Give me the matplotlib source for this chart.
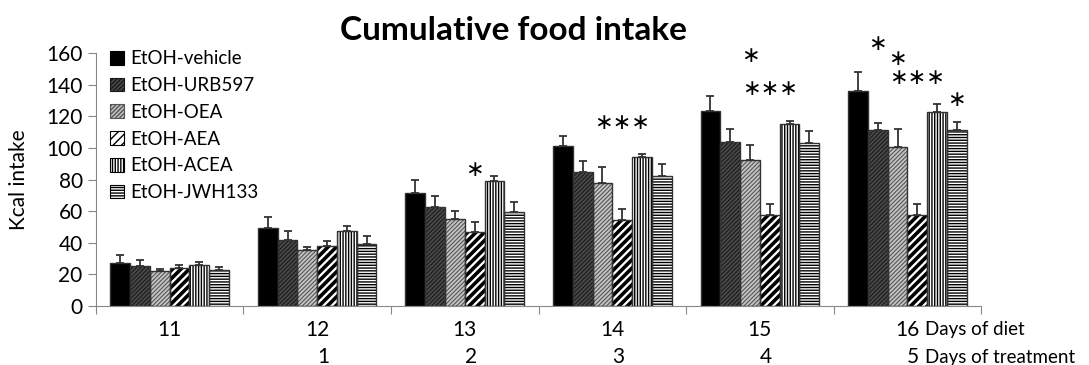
import numpy as np
import matplotlib.pyplot as plt
from matplotlib.patches import Patch
from matplotlib.transforms import blended_transform_factory

plt.rcParams['font.family'] = ['Lato', 'DejaVu Sans']

# data
days_diet = ['11', '12', '13', '14', '15', '16']
days_treat = ['', '1', '2', '3', '4', '5']
groups = ['EtOH-vehicle', 'EtOH-URB597', 'EtOH-OEA', 'EtOH-AEA', 'EtOH-ACEA', 'EtOH-JWH133']

vehicle = [27.4, 49.5, 71.7, 101.0, 123.6, 136.0]
urb597 = [25.0, 42.0, 62.9, 84.6, 104.0, 111.4]
oea = [22.0, 35.4, 54.8, 78.0, 92.4, 100.8]
aea = [24.0, 38.0, 46.8, 54.2, 57.6, 57.6]
acea = [26.0, 47.6, 79.0, 94.0, 115.0, 122.8]
jwh133 = [22.5, 39.0, 59.7, 82.0, 103.0, 111.0]

vehicle_err = [4.6, 7.0, 8.0, 6.8, 8.9, 11.7]
urb597_err = [4.0, 5.6, 6.5, 6.9, 7.8, 4.2]
oea_err = [1.5, 2.1, 5.1, 10.0, 9.3, 11.2]
aea_err = [2.0, 3.0, 6.6, 7.2, 7.0, 7.0]
acea_err = [2.0, 3.0, 3.3, 2.0, 2.3, 4.8]
jwh133_err = [2.0, 5.0, 6.3, 7.7, 7.8, 5.5]

# significance marks: (day index, group index, height, text)
stars = [(2, 3, 86, '∗'), (3, 3, 116, '∗∗∗'), (4, 2, 158, '∗'), (4, 3, 137, '∗∗∗'),
         (5, 1, 166, '∗'), (5, 2, 156, '∗'), (5, 3, 144, '∗∗∗'), (5, 5, 130, '∗')]

values = [vehicle, urb597, oea, aea, acea, jwh133]
errors = [vehicle_err, urb597_err, oea_err, aea_err, acea_err, jwh133_err]

# look of each group: face, hatch, hatch colour, hatch width
styles = [('black', None, 'black', 1.0),
          ('#4a4a4a', '////////', '#1a1a1a', 0.8),
          ('#c4c4c4', '////////', '#555555', 0.8),
          ('white', '////', 'black', 2.6),
          ('white', '||||||', 'black', 1.0),
          ('white', '------', 'black', 1.0)]

fig = plt.figure(figsize=(10.89, 3.65), dpi=100)
ax = fig.add_axes([0.088, 0.1616, 0.813, 0.6932])

x = np.arange(len(days_diet))
w = 0.134
handles = []
for i, (vals, errs) in enumerate(zip(values, errors)):
    face, hatch, hcol, hlw = styles[i]
    pos = x + (i - 2.5) * w
    with plt.rc_context({'hatch.linewidth': hlw}):
        bars = ax.bar(pos, vals, w, color=face, hatch=hatch, edgecolor=hcol,
                      linewidth=0, zorder=2)
        handles.append(Patch(facecolor=face, hatch=hatch, edgecolor=hcol,
                             linewidth=0.8, label=groups[i]))
    for b in bars:
        if hasattr(b, 'set_hatch_linewidth'):
            b.set_hatch_linewidth(hlw)
    if hasattr(handles[-1], 'set_hatch_linewidth'):
        handles[-1].set_hatch_linewidth(min(hlw, 1.6))
    ax.bar(pos, vals, w, fill=False, edgecolor='#333333', linewidth=1.0, zorder=3)
    ax.errorbar(pos, vals, yerr=[np.zeros(len(errs)), errs], fmt='none',
                ecolor='#333333', elinewidth=1.3, capsize=3, capthick=1.3, zorder=1)

for d, g, h, s in stars:
    ax.text(d + (g - 2.5) * w, h, s, ha='center', va='center', fontsize=16,
            family='DejaVu Sans', clip_on=False)

ax.set_xlim(-0.5, 5.5)
ax.set_ylim(0, 160)
ax.set_yticks(range(0, 161, 20))
ax.tick_params(axis='y', labelsize=15, direction='out', length=6, color='#888888')
ax.set_xticks(np.arange(-0.5, 6, 1))
ax.set_xticklabels([])
ax.tick_params(axis='x', direction='out', length=6, color='#888888')
for s in ['top', 'right']:
    ax.spines[s].set_visible(False)
for s in ['left', 'bottom']:
    ax.spines[s].set_color('#888888')

tr = blended_transform_factory(ax.transData, fig.transFigure)
for i in range(len(days_diet)):
    ax.text(i, 1 - 330 / 365, days_diet[i], transform=tr, ha='center', va='center',
            fontsize=15)
    ax.text(i + 0.04, 1 - 357 / 365, days_treat[i], transform=tr, ha='center',
            va='center', fontsize=15)
fig.text(925 / 1089, 1 - 330 / 365, 'Days of diet', ha='left', va='center', fontsize=13.5)
fig.text(925 / 1089, 1 - 357 / 365, 'Days of treatment', ha='left', va='center', fontsize=13.5)

ax.set_ylabel('Kcal intake', fontsize=15)
ax.yaxis.set_label_coords(-0.075, 0.5)
fig.text(513 / 1089, 1 - 30 / 365, 'Cumulative food intake', ha='center', va='center',
         fontsize=24, fontweight='bold')

ax.legend(handles=handles, loc='upper left', bbox_to_anchor=(0.008, 1.04),
          frameon=False, fontsize=13.5, handlelength=0.75, handleheight=0.75,
          handletextpad=0.3, labelspacing=0.52, borderaxespad=0)

fig.savefig('out.png', dpi=100)
